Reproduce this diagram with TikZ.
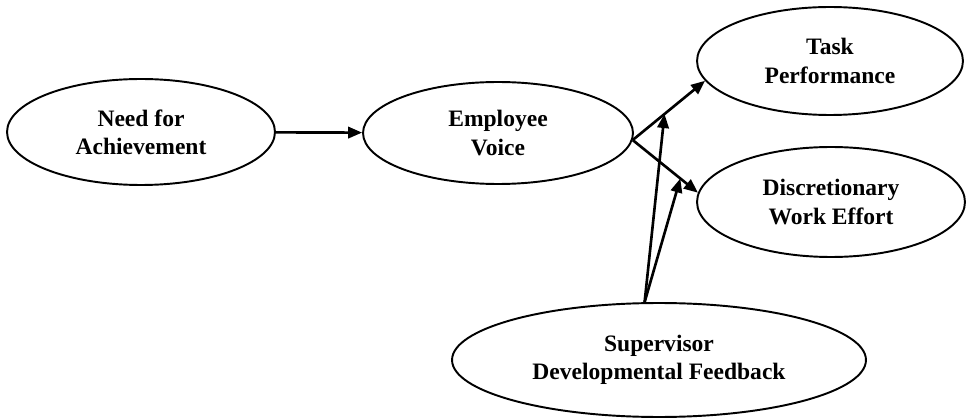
\documentclass[tikz,border=0pt]{standalone}
\usepackage{fontspec}
\setmainfont{Liberation Serif}
\usetikzlibrary{shapes.geometric,arrows.meta}

\begin{document}
\begin{tikzpicture}[x=0.02cm,y=-0.02cm,
  construct/.style={ellipse,draw,line width=1.1pt,inner sep=0pt,align=center,
    font=\bfseries\fontsize{13.4}{16}\selectfont},
  path/.style={line width=1.5pt,-{Triangle[length=8pt,width=6.5pt]}}]
\useasboundingbox (0,0) rectangle (966,418);

\node[construct,minimum width=5.36cm,minimum height=2.12cm] (need) at (141,132) {Need for\\Achievement};
\node[construct,minimum width=5.4cm,minimum height=2.04cm] (voice) at (498,133) {Employee\\Voice};
\node[construct,minimum width=5.32cm,minimum height=2.16cm] (task) at (830,61) {Task\\Performance};
\node[construct,minimum width=5.36cm,minimum height=2.2cm] (effort) at (831,202) {Discretionary\\Work Effort};
\node[construct,minimum width=8.28cm,minimum height=2.28cm] (feedback) at (659,360) {Supervisor\\Developmental Feedback};

\draw[path] (need) -- (voice);
\draw[path] (voice.-3) -- coordinate[pos=0.44] (m1) (task.189);
\draw[path] (voice.-3) -- coordinate[pos=0.73] (m2) (effort.176);

\draw[path] (feedback.104) -- (m1);
\draw[path] (feedback.104) -- (m2);
\end{tikzpicture}
\end{document}
